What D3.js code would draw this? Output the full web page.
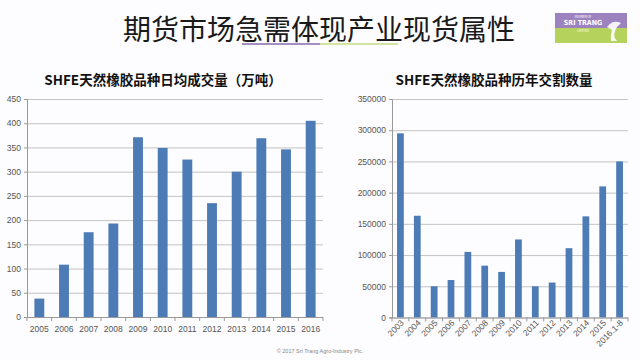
<!DOCTYPE html>
<html>
<head>
<meta charset="utf-8">
<script src="https://cdn.jsdelivr.net/npm/d3@7/dist/d3.min.js"></script>
<style>
  html, body { margin: 0; padding: 0; background: #fdfcfe; }
  svg { display: block; font-family: "Noto Sans CJK SC", "Noto Sans", sans-serif; }
  .grid line { stroke: #c4c4c4; stroke-width: 1; }
  .tick text { fill: #555; }
</style>
</head>
<body>
<div id="chart"></div>
<script>
// Left chart: daily average volume (10k tonnes)
const volYears = ['2005', '2006', '2007', '2008', '2009', '2010', '2011', '2012', '2013', '2014', '2015', '2016'];
const volValues = [38, 108, 175, 193, 371, 349, 325, 235, 300, 369, 346, 405];
const volTicks = [0, 50, 100, 150, 200, 250, 300, 350, 400, 450];

// Right chart: delivery quantity by year
const delYears = ['2003', '2004', '2005', '2006', '2007', '2008', '2009', '2010', '2011', '2012', '2013', '2014', '2015', '2016.1-8'];
const delValues = [295000, 163000, 50000, 60000, 105000, 83000, 73000, 125000, 50000, 56000, 111000, 162000, 210000, 250000];
const delTicks = [0, 50000, 100000, 150000, 200000, 250000, 300000, 350000];

const barColor = '#4c7bb6';
const W = 640, H = 360;

const svg = d3.select('#chart').append('svg')
    .attr('width', W)
    .attr('height', H);

// Slide title with two-colour underline
svg.append('text')
    .attr('x', 319)
    .attr('y', 40)
    .attr('text-anchor', 'middle')
    .attr('font-size', 28)
    .attr('fill', '#1a1a1a')
    .text('期货市场急需体现产业现货属性');

svg.append('line').attr('x1', 242).attr('x2', 320).attr('y1', 44).attr('y2', 44)
    .attr('stroke', '#a58fc0').attr('stroke-width', 2);
svg.append('line').attr('x1', 320).attr('x2', 398).attr('y1', 44).attr('y2', 44)
    .attr('stroke', '#d3e3a0').attr('stroke-width', 2);

// Logo block (top right)
const logo = svg.append('g').attr('transform', 'translate(555,13)');
logo.append('rect').attr('width', 72).attr('height', 15).attr('fill', '#9c83c0');
logo.append('rect').attr('y', 15).attr('width', 72).attr('height', 15).attr('fill', '#b5d35c');
logo.append('text').attr('x', 28).attr('y', 4.5).attr('text-anchor', 'middle')
    .attr('font-size', 3).attr('fill', '#fff').text('MEMBER OF');
logo.append('text').attr('x', 28).attr('y', 12).attr('text-anchor', 'middle')
    .attr('font-size', 7).attr('font-weight', 'bold').attr('fill', '#fff')
    .attr('font-family', 'DejaVu Sans Condensed, sans-serif').text('SRI TRANG');
logo.append('text').attr('x', 28).attr('y', 19).attr('text-anchor', 'middle')
    .attr('font-size', 3).attr('fill', '#fff').text('LIMITED');
logo.append('path')
    .attr('d', 'M52,14 Q58,6 66,10 Q62,13 60,18 Q58,24 62,28 L56,28 Q55,22 57,17 Z')
    .attr('fill', '#fff').attr('opacity', 0.9);

// Generic Excel-like bar chart
function barChart(opts) {
    const g = svg.append('g');
    const x = d3.scaleBand()
        .domain(opts.categories)
        .range([opts.left, opts.right])
        .paddingInner(0.6)
        .paddingOuter(0.3);
    const y = d3.scaleLinear()
        .domain([0, opts.max])
        .range([opts.bottom, opts.top]);

    // gridlines
    g.append('g')
        .attr('class', 'grid')
        .attr('transform', `translate(${opts.left},0)`)
        .call(d3.axisLeft(y).tickValues(opts.ticks).tickSize(-(opts.right - opts.left)).tickFormat(''))
        .call(s => s.select('.domain').remove());

    // y axis
    g.append('g')
        .attr('transform', `translate(${opts.left},0)`)
        .call(d3.axisLeft(y).tickValues(opts.ticks).tickSize(3).tickPadding(3).tickFormat(d3.format('d')))
        .call(s => s.select('.domain').attr('stroke', '#999'))
        .call(s => s.selectAll('.tick line').attr('stroke', '#999'))
        .call(s => s.selectAll('.tick text').attr('font-size', 8.5).attr('font-family', 'Liberation Sans, sans-serif'));

    // bars
    g.selectAll('.bar')
        .data(opts.values)
        .enter().append('rect')
        .attr('class', 'bar')
        .attr('x', (d, i) => x(opts.categories[i]))
        .attr('y', d => y(d))
        .attr('width', x.bandwidth())
        .attr('height', d => opts.bottom - y(d))
        .attr('fill', barColor);

    // x axis line with boundary ticks
    const step = x.step();
    g.append('line')
        .attr('x1', opts.left).attr('x2', opts.right)
        .attr('y1', opts.bottom + 0.5).attr('y2', opts.bottom + 0.5)
        .attr('stroke', '#999');
    g.selectAll('.xtick')
        .data(d3.range(opts.categories.length + 1))
        .enter().append('line')
        .attr('x1', i => opts.left + i * step).attr('x2', i => opts.left + i * step)
        .attr('y1', opts.bottom).attr('y2', opts.bottom + 4)
        .attr('stroke', '#999');

    // x labels
    const labels = g.selectAll('.xlabel')
        .data(opts.categories)
        .enter().append('text')
        .attr('font-size', 8.5)
        .attr('font-family', 'Liberation Sans, sans-serif')
        .attr('fill', '#555')
        .text(d => d);
    if (opts.rotate) {
        labels.attr('text-anchor', 'end')
            .attr('transform', d => `translate(${x(d) + x.bandwidth() / 2 + 4},${opts.bottom + 6}) rotate(-45)`);
    } else {
        labels.attr('text-anchor', 'middle')
            .attr('x', d => x(d) + x.bandwidth() / 2)
            .attr('y', opts.bottom + 15);
    }

    // chart title
    svg.append('text')
        .attr('x', opts.titleX)
        .attr('y', 85)
        .attr('text-anchor', 'middle')
        .attr('font-size', 13.5)
        .attr('font-weight', 'bold')
        .attr('fill', '#111')
        .text(opts.title);
}

barChart({
    categories: volYears, values: volValues, ticks: volTicks, max: 450,
    left: 27, right: 323, top: 99, bottom: 317,
    title: 'SHFE天然橡胶品种日均成交量（万吨）', titleX: 163
});

barChart({
    categories: delYears, values: delValues, ticks: delTicks, max: 350000,
    left: 392, right: 628, top: 99, bottom: 317.5, rotate: true,
    title: 'SHFE天然橡胶品种历年交割数量', titleX: 494
});

// footer
svg.append('text')
    .attr('x', 320)
    .attr('y', 353)
    .attr('text-anchor', 'middle')
    .attr('font-size', 5.5)
    .attr('font-family', 'Liberation Sans, sans-serif')
    .attr('fill', '#888')
    .text('© 2017 Sri Trang Agro-Industry Plc.');
</script>
</body>
</html>
